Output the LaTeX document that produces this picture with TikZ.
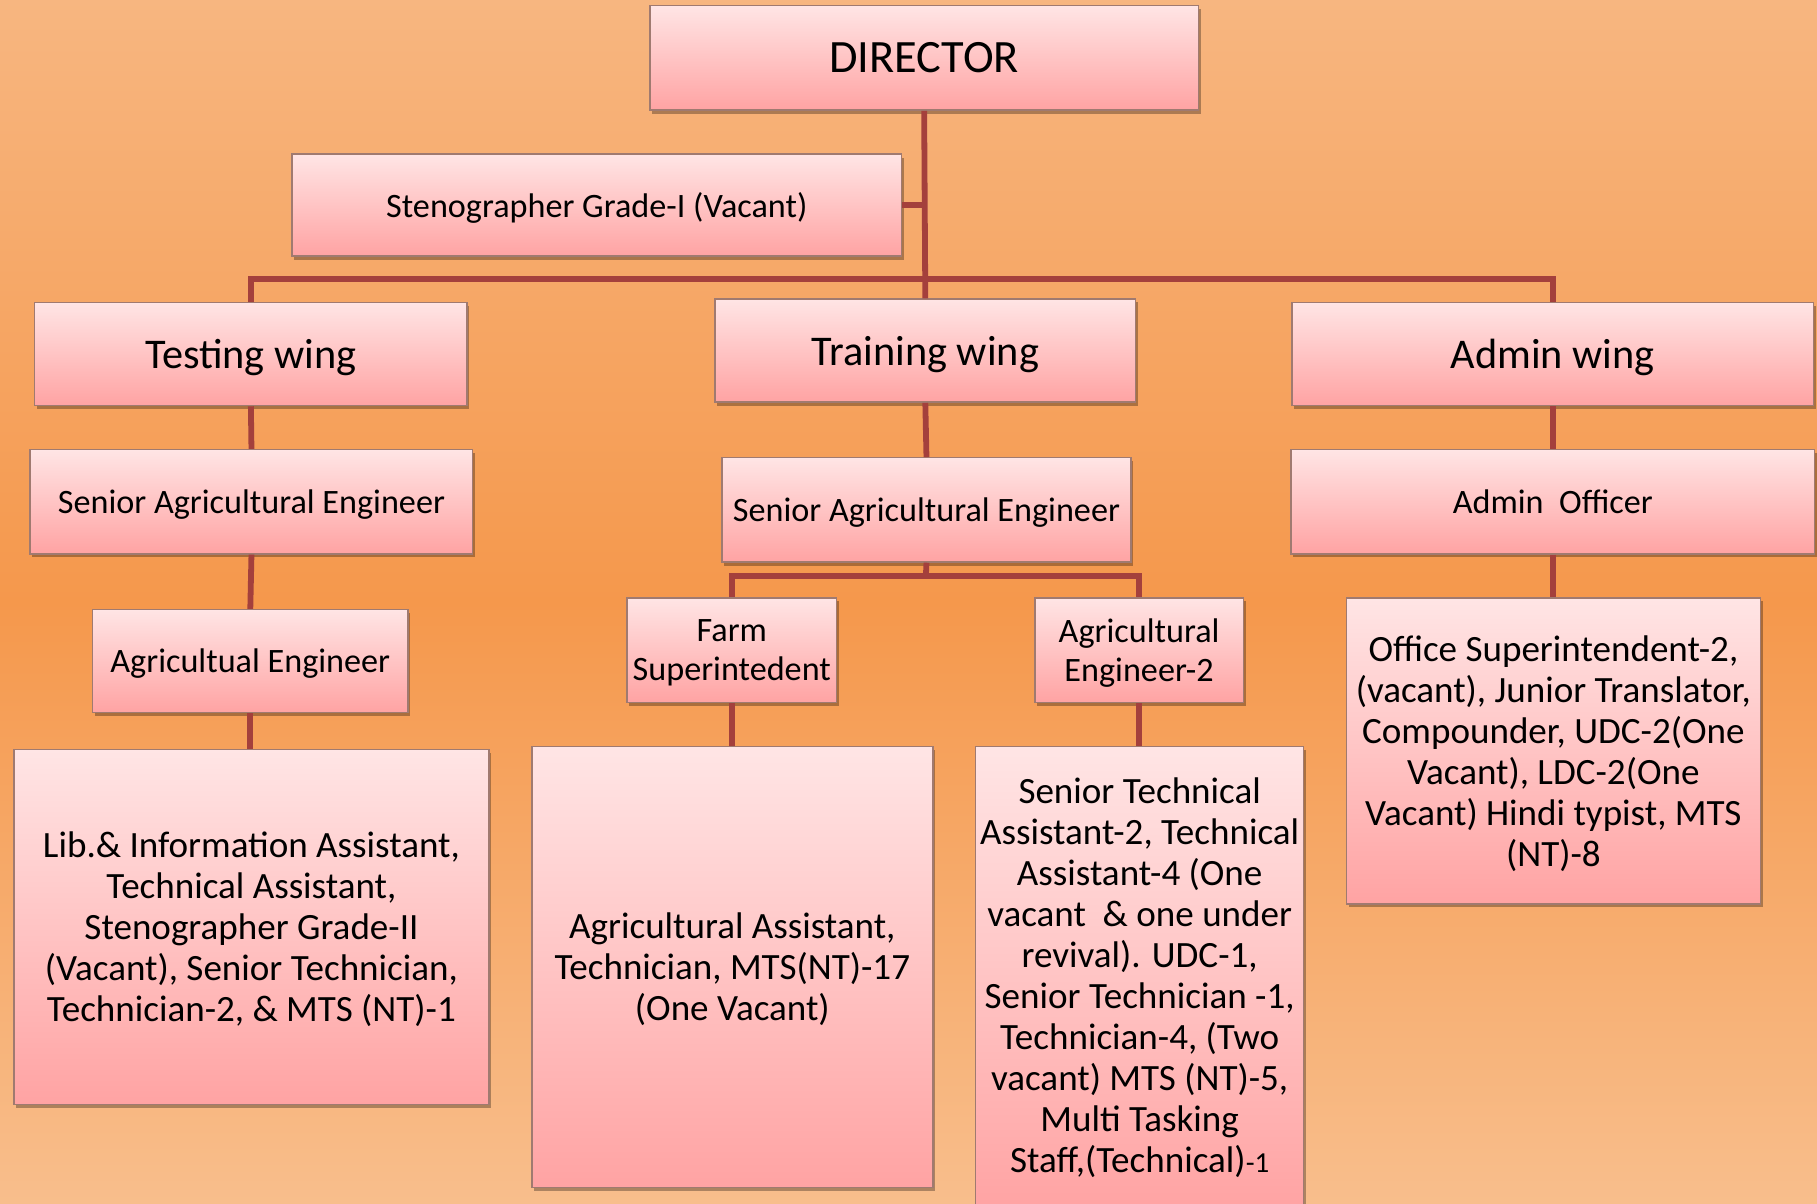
\documentclass[tikz,border=0pt]{standalone}
\usepackage{fontspec}
\setmainfont{Carlito}
\usetikzlibrary{shadows}
\definecolor{bgtop}{RGB}{247,182,128}
\definecolor{bgmid}{RGB}{245,152,76}
\definecolor{bgbot}{RGB}{248,190,140}
\definecolor{boxtop}{RGB}{255,229,229}
\definecolor{boxbot}{RGB}{255,163,163}
\definecolor{boxline}{RGB}{160,122,112}
\definecolor{conn}{RGB}{164,64,60}
\tikzset{
  orgbox/.style={rectangle, draw=boxline, line width=1.2pt, top color=boxtop, bottom color=boxbot,
    align=center, inner sep=0pt,
    drop shadow={shadow xshift=2pt, shadow yshift=-3pt, opacity=0.3, fill=black}},
  nodepth/.style={text depth=0pt},
  smalltext/.style={font={\fontsize{29.5pt}{33pt}\selectfont}},
  bigtext/.style={font={\fontsize{32pt}{35.4pt}\selectfont}},
  wingtext/.style={font={\fontsize{36.5pt}{41pt}\selectfont}},
  conline/.style={draw=conn, line width=5pt},
}
\begin{document}
\begin{tikzpicture}[x=1pt,y=-1pt]
\clip (0,0) rectangle (1568,1039);
\useasboundingbox (0,0) rectangle (1568,1039);
\shade[top color=bgtop, bottom color=bgbot, middle color=bgmid] (0,0) rectangle (1568,1039);

% nodes
\node[orgbox, nodepth, minimum width=473pt, minimum height=90pt, font={\fontsize{40pt}{45pt}\selectfont}] (dir) at (797.5,50) {DIRECTOR};
\node[orgbox, nodepth, smalltext, minimum width=526pt, minimum height=88pt] (steno) at (515,177) {Stenographer Grade-I (Vacant)};

\node[orgbox, nodepth, wingtext, minimum width=373pt, minimum height=89pt] (test) at (216.5,305.5) {Testing wing};
\node[orgbox, nodepth, wingtext, minimum width=363pt, minimum height=89pt] (train) at (798.5,302.5) {Training wing};
\node[orgbox, nodepth, wingtext, minimum width=450pt, minimum height=89pt] (admin) at (1340,305.5) {Admin wing};

\node[orgbox, nodepth, smalltext, minimum width=382pt, minimum height=90pt] (sae1) at (217,433) {Senior Agricultural Engineer};
\node[orgbox, nodepth, smalltext, minimum width=353pt, minimum height=90pt] (sae2) at (799.5,440) {Senior Agricultural Engineer};
\node[orgbox, nodepth, smalltext, minimum width=452pt, minimum height=90pt] (ao) at (1340,433) {Admin\ \ Officer};

\node[orgbox, nodepth, smalltext, minimum width=272pt, minimum height=89pt] (ae) at (216,570.5) {Agricultual Engineer};
\node[orgbox, nodepth, smalltext, minimum width=181pt, minimum height=90pt] (farm) at (631.5,561) {Farm\\Superintedent};
\node[orgbox, nodepth, smalltext, minimum width=180pt, minimum height=90pt] (ae2) at (983,561) {Agricultural\\Engineer-2};

\node[orgbox, nodepth, bigtext, minimum width=410pt, minimum height=306pt] (tbox) at (217,800)
  {Lib.\& Information Assistant,\\Technical Assistant,\\Stenographer Grade-II\\(Vacant), Senior Technician,\\Technician-2, \& MTS (NT)-1};
\node[orgbox, nodepth, bigtext, minimum width=346pt, minimum height=381pt] (fbox) at (632,834.5)
  {Agricultural Assistant,\\Technician, MTS(NT)-17\\(One Vacant)};
\node[orgbox, bigtext, minimum width=283pt, minimum height=400pt] (ebox) at (983.5,844)
  {Senior Technical\\Assistant-2, Technical\\Assistant-4 (One\\vacant\ \ \& one under\\revival). UDC-1,\\Senior Technician -1,\\Technician-4, (Two\\vacant) MTS (NT)-5,\\Multi Tasking\\Staff,(Technical){\fontsize{25pt}{30pt}\selectfont -1}};
\node[orgbox, nodepth, bigtext, minimum width=357pt, minimum height=264pt] (abox) at (1340.5,648)
  {Office Superintendent-2,\\(vacant), Junior Translator,\\Compounder, UDC-2(One\\Vacant), LDC-2(One\\Vacant) Hindi typist, MTS\\(NT)-8};

% connectors
\coordinate (bus) at (798,241);
\coordinate (tbus) at (799,497);
\draw[conline] (dir.south) -- (train.north);
\draw[conline] (steno.east) -- (steno.east -| dir.south);
\draw[conline] (test.north) -- (test.north |- bus) -- (admin.north |- bus) -- (admin.north);
\draw[conline] (test.south) -- (sae1.north);
\draw[conline] (sae1.south) -- (ae.north);
\draw[conline] (ae.south) -- (ae.south |- tbox.north);
\draw[conline] (train.south) -- (sae2.north);
\draw[conline] (sae2.south) -- (tbus);
\draw[conline] (farm.north) -- (farm.north |- tbus) -- (ae2.north |- tbus) -- (ae2.north);
\draw[conline] (farm.south) -- (farm.south |- fbox.north);
\draw[conline] (ae2.south) -- (ae2.south |- ebox.north);
\draw[conline] (admin.south) -- (ao.north);
\draw[conline] (ao.south) -- (ao.south |- abox.north);
\end{tikzpicture}
\end{document}
